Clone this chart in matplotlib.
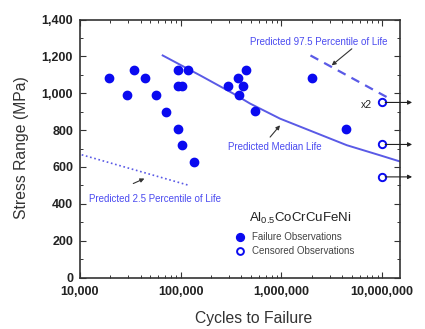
import matplotlib
matplotlib.use("Agg")
import matplotlib.pyplot as plt
from matplotlib.ticker import FuncFormatter, FixedLocator, LogLocator, NullFormatter

# ---- data ----
fail_cycles = [19400, 29100, 34400, 44200, 56900, 71500, 94600, 94600, 102000, 94600,
               102000, 119000, 135500, 297000, 373000, 382000, 413000, 445000, 547000,
               2030000, 4380000]
fail_stress = [1082, 988, 1128, 1082, 988, 898, 1128, 1037, 1037, 808,
               718, 1128, 627, 1037, 1084, 988, 1037, 1128, 903,
               1082, 808]

cens_cycles = [10000000, 10000000, 10000000]
cens_stress = [950, 722, 546]

median_cycles = [66200, 155600, 332700, 487500, 968300, 2075000, 4446000, 9528000, 14720000]
median_stress = [1205, 1097, 998, 944, 862, 790, 718, 663, 631]

p975_cycles = [1940000, 11100000]
p975_stress = [1205, 979]

p025_cycles = [10400, 119000]
p025_stress = [666, 501]

y_ticks = [0, 200, 400, 600, 800, 1000, 1200, 1400]
x_ticks = [10000, 100000, 1000000, 10000000]

# ---- styling ----
FONT = "Liberation Sans"
plt.rcParams["font.family"] = [FONT, "DejaVu Sans"]
plt.rcParams["mathtext.default"] = "regular"

MARK = "#0a0af0"
LINE = "#5a5ae6"
TXT = "#4b4bf0"
AX = "#333333"

fig = plt.figure(figsize=(4.25, 3.29), dpi=100)
ax = fig.add_axes([0.1882, 0.1565, 0.7529, 0.7842])

ax.set_xscale("log")
ax.set_xlim(10000, 15000000)
ax.set_ylim(0, 1400)

# lines
ax.plot(median_cycles, median_stress, color=LINE, lw=1.4, zorder=2)
ax.plot(p975_cycles, p975_stress, color=LINE, lw=1.6, ls=(0, (4, 3)), zorder=2)
ax.plot(p025_cycles, p025_stress, color=LINE, lw=1.2, ls=(0, (1, 1.6)), zorder=2)

# points
ax.scatter(fail_cycles, fail_stress, s=36, color=MARK, edgecolors=MARK, zorder=3)
ax.scatter(cens_cycles, cens_stress, s=28, facecolors="white", edgecolors=MARK,
           linewidths=1.4, zorder=3)

# censored arrows
for yv in cens_stress:
    ax.annotate("", xy=(19800000, yv), xytext=(10700000, yv), xycoords="data",
                annotation_clip=False,
                arrowprops=dict(arrowstyle="-|>", color="#222222", lw=0.8,
                                mutation_scale=6, shrinkA=0, shrinkB=0))

# annotation arrows
arrow_kw = dict(arrowstyle="-|>", color="#333333", lw=0.8, mutation_scale=6,
                shrinkA=0, shrinkB=0)
ax.annotate("", xy=(3150000, 1151), xytext=(4990000, 1241), arrowprops=arrow_kw)
ax.annotate("", xy=(968000, 826), xytext=(771000, 762), arrowprops=arrow_kw)
ax.annotate("", xy=(43600, 537), xytext=(33800, 510), arrowprops=arrow_kw)

# annotation texts
ax.text(0.747, 0.914, "Predicted 97.5 Percentile of Life", transform=ax.transAxes,
        ha="center", va="center", fontsize=7, color=TXT)
ax.text(0.608, 0.507, "Predicted Median Life", transform=ax.transAxes,
        ha="center", va="center", fontsize=7, color=TXT)
ax.text(0.235, 0.303, "Predicted 2.5 Percentile of Life", transform=ax.transAxes,
        ha="center", va="center", fontsize=7, color=TXT)
ax.text(0.9125, 0.669, "x2", transform=ax.transAxes, ha="right", va="center",
        fontsize=7.5, color="#222222")

# legend (manual)
ax.text(0.6875, 0.2306, "Al$_{0.5}$CoCrCuFeNi", transform=ax.transAxes,
        ha="center", va="center", fontsize=9.5, color="#222222")
ax.scatter([0.5], [0.157], s=32, color=MARK, transform=ax.transAxes, zorder=3)
ax.scatter([0.5], [0.104], s=24, facecolors="white", edgecolors=MARK,
           linewidths=1.4, transform=ax.transAxes, zorder=3)
ax.text(0.5375, 0.157, "Failure Observations", transform=ax.transAxes,
        ha="left", va="center", fontsize=7, color="#444444")
ax.text(0.5375, 0.104, "Censored Observations", transform=ax.transAxes,
        ha="left", va="center", fontsize=7, color="#444444")

# ticks
ax.yaxis.set_major_locator(FixedLocator(y_ticks))
ax.yaxis.set_minor_locator(FixedLocator([v + 100 for v in y_ticks[:-1]]))
ax.xaxis.set_major_locator(FixedLocator(x_ticks))
ax.xaxis.set_minor_locator(LogLocator(base=10, subs=range(2, 10)))
ax.xaxis.set_minor_formatter(NullFormatter())
fmt = FuncFormatter(lambda v, p: f"{int(round(v)):,}")
ax.xaxis.set_major_formatter(fmt)
ax.yaxis.set_major_formatter(fmt)

ax.tick_params(which="both", direction="in", top=True, right=True, color=AX,
               labelsize=9, labelcolor="#222222")
ax.tick_params(which="major", length=4, width=0.8)
ax.tick_params(which="minor", length=2, width=0.7)
ax.tick_params(axis="x", pad=6)
ax.tick_params(axis="y", pad=5)
for lab in ax.get_xticklabels() + ax.get_yticklabels():
    lab.set_fontweight("bold")

for sp in ax.spines.values():
    sp.set_color(AX)
    sp.set_linewidth(1.2)

fig.text(0.051, 0.55, "Stress Range (MPa)", rotation=90, ha="center", va="center",
         fontsize=11.3, color="#333333")
fig.text(0.596, 0.033, "Cycles to Failure", ha="center", va="center",
         fontsize=11.3, color="#333333")

fig.savefig("out.png", dpi=100)
